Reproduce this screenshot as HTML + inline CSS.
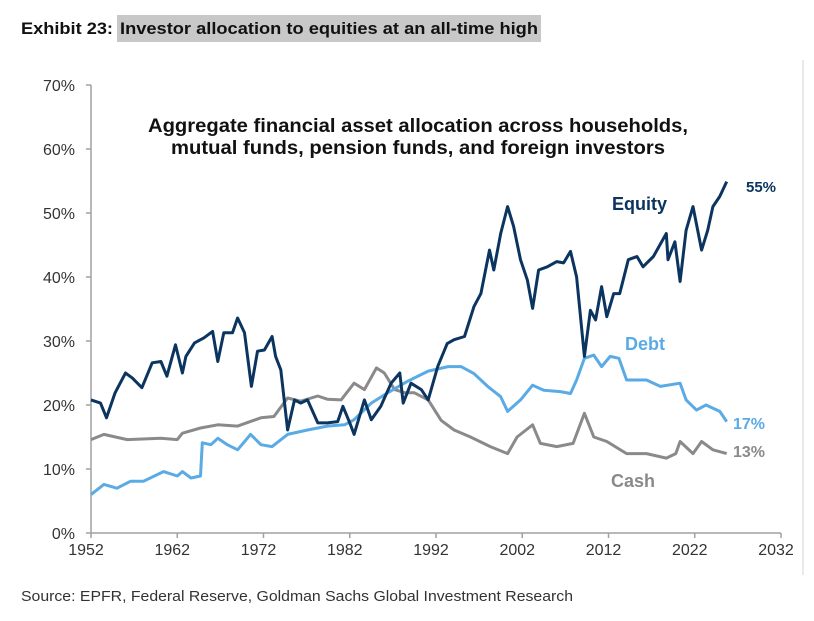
<!DOCTYPE html>
<html><head><meta charset="utf-8"><style>
body{margin:0;background:#fff;width:814px;height:616px;overflow:hidden;font-family:"Liberation Sans",sans-serif}
</style></head><body>
<svg width="814" height="616" xmlns="http://www.w3.org/2000/svg">
<g>
<text x="21" y="34" font-weight="bold" font-size="17" fill="#111" textLength="92" lengthAdjust="spacingAndGlyphs">Exhibit 23:</text>
<rect x="117" y="15" width="424" height="27" fill="#c8c8c8"/>
<text x="120" y="34" font-weight="bold" font-size="17" fill="#111" textLength="418" lengthAdjust="spacingAndGlyphs">Investor allocation to equities at an all-time high</text>
</g>
<line x1="803" y1="60" x2="803" y2="575" stroke="#e4e4e4" stroke-width="1.5"/>
<g id="axes"></g>
<g id="series"></g>
<text x="418" y="132" text-anchor="middle" font-weight="bold" font-size="19" fill="#111" textLength="540" lengthAdjust="spacingAndGlyphs">Aggregate financial asset allocation across households,</text>
<text x="418" y="154" text-anchor="middle" font-weight="bold" font-size="19" fill="#111" textLength="494" lengthAdjust="spacingAndGlyphs">mutual funds, pension funds, and foreign investors</text>
<text x="612" y="210" font-weight="bold" font-size="18" fill="#0b3560">Equity</text>
<text x="746" y="192" font-weight="bold" font-size="15" fill="#0b3560">55%</text>
<text x="625" y="350" font-weight="bold" font-size="18" fill="#5aaae6">Debt</text>
<text x="733" y="429" font-weight="bold" font-size="16" fill="#5aaae6">17%</text>
<text x="733" y="457" font-weight="bold" font-size="16" fill="#8a8a8a">13%</text>
<text x="611" y="487" font-weight="bold" font-size="18" fill="#8a8a8a">Cash</text>
<text x="21" y="601" font-size="15" fill="#333" textLength="552" lengthAdjust="spacingAndGlyphs">Source: EPFR, Federal Reserve, Goldman Sachs Global Investment Research</text>
</svg>
<script>
const yTicks=[0,10,20,30,40,50,60,70];
const xTicks=[1952,1962,1972,1982,1992,2002,2012,2022,2032];
const equityYears=[1952,1953.1,1953.8,1954.8,1956,1956.8,1957.9,1959.1,1960.1,1960.8,1961.8,1962.6,1963,1964,1965.1,1966.1,1966.7,1967.4,1968.4,1969,1969.8,1970.6,1971.3,1972.1,1973,1973.4,1974,1974.8,1975.6,1976.3,1977.1,1978.3,1979.4,1980.6,1981.2,1982,1982.5,1983.7,1984.5,1985.6,1986.8,1987.8,1988.2,1989.1,1990.3,1991.1,1992.2,1993.3,1994.1,1995.3,1996.4,1997.2,1998.2,1998.7,1999.5,2000.3,2001,2001.8,2002.6,2003.2,2003.9,2004.9,2006,2006.8,2007.6,2008.3,2009.2,2009.9,2010.5,2011.2,2011.8,2012.6,2013.3,2014.3,2015.3,2016,2017.2,2018.7,2018.9,2019.7,2020.3,2021,2021.8,2022.8,2023.5,2024.1,2024.9,2025.7];
const equityValues=[20.8,20.3,18,21.9,25,24.2,22.7,26.6,26.8,24.5,29.4,25,27.6,29.7,30.5,31.5,26.8,31.3,31.3,33.6,31.3,22.9,28.4,28.6,30.7,27.6,25.5,16.1,20.8,20.3,20.8,17.2,17.2,17.4,19.8,17.2,15.4,20.8,17.7,19.8,23.4,25,20.3,23.4,22.4,20.8,26,29.6,30.2,30.7,35.4,37.4,44.2,41.1,46.8,51,47.9,42.7,39.5,35.1,41.1,41.6,42.4,42.2,44,40,27.6,34.8,33.3,38.5,33.8,37.4,37.4,42.7,43.2,41.6,43.2,46.8,42.7,45.5,39.3,47.3,51,44.2,47.3,51,52.6,54.9];
const debtYears=[1952,1953.5,1955,1956.6,1958.1,1960.4,1962,1962.6,1963.6,1964.7,1964.9,1965.9,1966.7,1967.8,1969,1970.5,1971.7,1973,1974.8,1977.1,1979.4,1981.4,1982.5,1984.5,1986.4,1988.7,1991.1,1993.4,1994.9,1996.4,1998,1999.5,2000.3,2001.8,2003.2,2004.5,2006.4,2007.6,2008.3,2009.2,2010.3,2011.2,2012.2,2013.2,2014.1,2016.4,2018,2020.3,2021,2022.2,2023.3,2024.9,2025.7];
const debtValues=[6,7.6,7,8.1,8.1,9.6,8.9,9.6,8.6,8.9,14.1,13.8,14.8,13.8,13,15.4,13.8,13.5,15.4,16.1,16.7,16.9,17.7,20.3,21.9,23.7,25.3,26,26,24.9,22.9,21.3,19,20.8,23.1,22.3,22.1,21.8,23.9,27.3,27.8,26,27.6,27.3,23.9,23.9,22.9,23.4,20.8,19.2,20,19,17.4];
const cashYears=[1952,1953.5,1956.2,1960.1,1962,1962.6,1964.7,1966.7,1969,1971.7,1973.2,1974.8,1976.3,1978.3,1979.4,1981,1982.5,1983.7,1985.1,1986,1987.2,1988.4,1989.5,1991.1,1992.6,1994.1,1996,1998.3,2000.3,2001.4,2003.2,2004.1,2006,2007.9,2009.2,2010.3,2011.8,2014.1,2016.4,2018.7,2019.8,2020.3,2021.8,2022.8,2024.1,2025.7];
const cashValues=[14.6,15.4,14.6,14.8,14.6,15.6,16.4,16.9,16.7,18,18.2,21.1,20.6,21.4,20.9,20.8,23.4,22.4,25.8,25,22.4,21.9,21.9,20.8,17.6,16.1,15,13.5,12.4,15,16.9,14,13.5,14,18.7,15,14.3,12.4,12.4,11.7,12.4,14.3,12.4,14.3,13,12.4];
const X0=91,X1=781,Y0=533,Y1=85;
function xs(y){return X0+(y-1952)/(2032-1952)*(X1-X0);}
function ys(v){return Y0-v/70*(Y0-Y1);}
const NS="http://www.w3.org/2000/svg";
const ax=document.getElementById('axes');
function mk(t,a,p){const e=document.createElementNS(NS,t);for(const k in a)e.setAttribute(k,a[k]);p.appendChild(e);return e;}
const yl=mk('line',{x1:X0,y1:Y1,x2:X0,y2:Y0,stroke:'#a0a0a0','stroke-width':1.5},ax);


const xl=mk('line',{x1:X0,y1:Y0,x2:X1,y2:Y0,stroke:'#a0a0a0','stroke-width':1.5},ax);


yTicks.forEach(v=>{
 const tk=mk('line',{x1:X0-5,x2:X0,y1:ys(v),y2:ys(v),stroke:'#a0a0a0','stroke-width':1.5},ax);
 
 
 const t=mk('text',{x:X0-16,y:ys(v)+6,'text-anchor':'end','font-size':16,fill:'#333'},ax);
 t.textContent=v+'%';
 
 
});
xTicks.forEach(y=>{
 const tk=mk('line',{x1:xs(y),x2:xs(y),y1:Y0,y2:Y0+5,stroke:'#a0a0a0','stroke-width':1.5},ax);
 
 
 const t=mk('text',{x:xs(y)-5,y:Y0+22,'text-anchor':'middle','font-size':16,fill:'#333'},ax);
 t.textContent=y;
 
 
});
const sg=document.getElementById('series');
function line(xsArr,vs,col,name){
 const d=xsArr.map((y,i)=>(i?'L':'M')+xs(y).toFixed(1)+','+ys(vs[i]).toFixed(1)).join('');
 const p=mk('path',{d:d,fill:'none',stroke:col,'stroke-width':3,'stroke-linejoin':'round'},sg);
 
 
}
line(cashYears,cashValues,'#8a8a8a','cash-line');
line(debtYears,debtValues,'#5aaae6','debt-line');
line(equityYears,equityValues,'#0b3560','equity-line');
</script>
</body></html>
